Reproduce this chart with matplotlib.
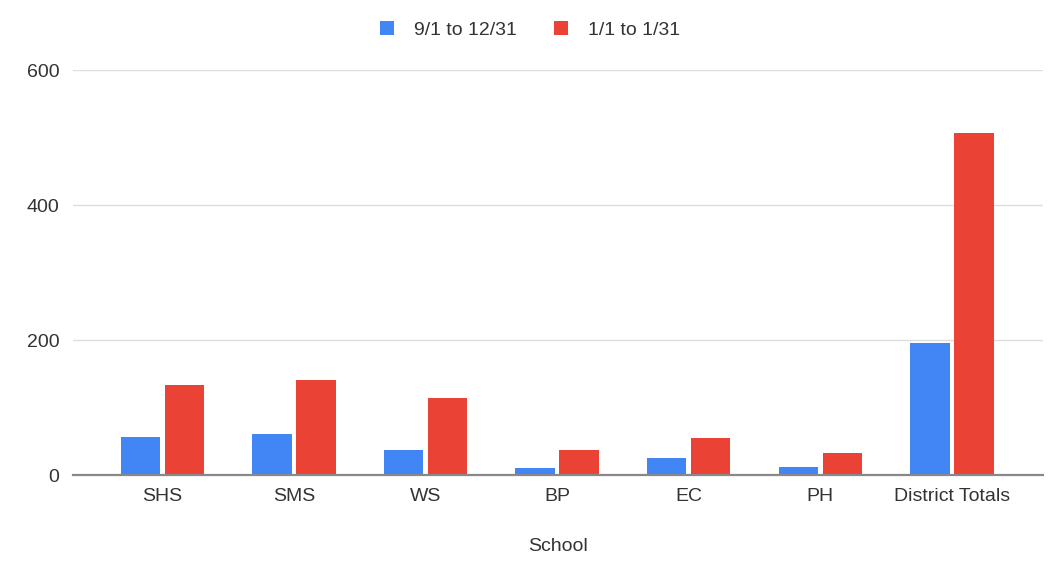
import numpy as np
import matplotlib.pyplot as plt

schools = ["SHS", "SMS", "WS", "BP", "EC", "PH", "District Totals"]
fall = [56, 61, 37, 10, 25, 12, 196]
january = [133, 141, 114, 37, 55, 32, 507]
series_labels = ["9/1 to 12/31", "1/1 to 1/31"]
yticks = [0, 200, 400, 600]

blue = "#4285F4"
red = "#EA4335"
txt = "#333333"

plt.rcParams['font.family'] = ['Liberation Sans', 'DejaVu Sans']

fig = plt.figure(figsize=(10.51, 5.71), dpi=100)
ax = fig.add_axes([0.0695, 0.168, 0.9225, 0.709])

x = np.arange(len(schools))
w = 0.30
ax.bar(x - 0.167, fall, width=w, color=blue, label=series_labels[0], zorder=3)
ax.bar(x + 0.167, january, width=w, color=red, label=series_labels[1], zorder=3)

ax.set_xlim(-0.68, 6.69)
ax.set_ylim(0, 600)
ax.set_yticks(yticks)
ax.set_xticks(x)
ax.set_xticklabels(schools)
ax.tick_params(axis='both', length=0, labelsize=14, colors=txt)
ax.tick_params(axis='x', pad=9)
ax.tick_params(axis='y', pad=10)

ax.grid(axis='y', color="#dddddd", linewidth=1, zorder=0)
for s in ["top", "right", "left"]:
    ax.spines[s].set_visible(False)
ax.spines["bottom"].set_color("#888888")
ax.spines["bottom"].set_linewidth(1.6)
ax.spines["bottom"].set_zorder(4)

ax.set_xlabel("School", fontsize=14, color=txt, labelpad=24)

ax.legend(loc="lower center", bbox_to_anchor=(0.471, 1.035), ncol=2, frameon=False,
          fontsize=14, labelcolor=txt, handlelength=0.75, handleheight=0.75,
          columnspacing=1.9, handletextpad=1.0)

fig.savefig("out.png", dpi=100)
